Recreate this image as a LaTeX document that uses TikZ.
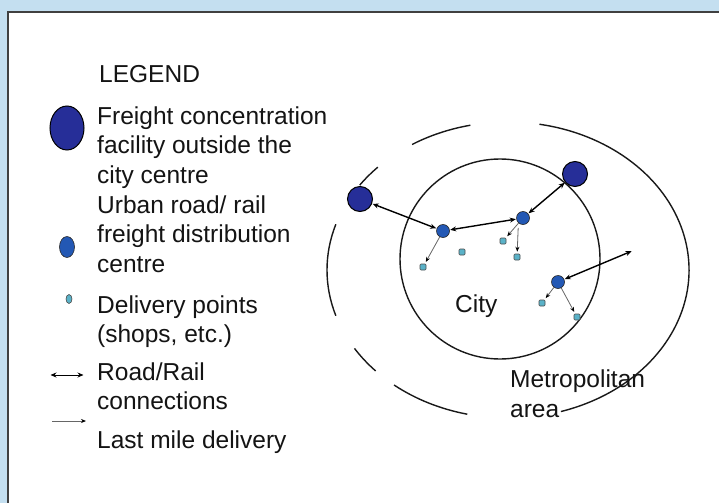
\documentclass[tikz,border=0pt]{standalone}
\usepackage{fontspec}
\setmainfont{Liberation Sans}
\usetikzlibrary{arrows.meta,shapes.geometric}

\definecolor{panelblue}{HTML}{C4DFF0}
\definecolor{hubblue}{HTML}{262E98}
\definecolor{udcblue}{HTML}{2358B4}
\definecolor{shopteal}{HTML}{5AB2C8}

\begin{document}
\begin{tikzpicture}[
  x=1pt, y=-1pt,
  font=\fontsize{24.5}{29.5}\selectfont,
  txt/.style={anchor=base west, align=left, inner sep=0pt, text=black!92},
  hub/.style={circle, draw=black, line width=1pt, fill=hubblue,
              minimum size=25pt, inner sep=0pt},
  udc/.style={circle, draw=black!85, line width=0.6pt, fill=udcblue,
              minimum size=13pt, inner sep=0pt},
  shop/.style={rectangle, rounded corners=1pt, draw=black!70, line width=0.6pt,
               fill=shopteal, minimum size=6pt, inner sep=0pt},
  link/.style={{Stealth[length=6pt,width=5pt]}-{Stealth[length=6pt,width=5pt]},
               line width=1.4pt, shorten <=0.5pt, shorten >=0.5pt},
  last/.style={-{Stealth[length=5pt,width=4pt,black]}, draw=black!60, line width=0.8pt,
               shorten >=2pt},
  ring/.style={line width=1.4pt, black!90},
]
\useasboundingbox (0,0) rectangle (719,503);

% panel
\fill[panelblue] (0,0) rectangle (719,503);
\fill[white] (8,12) rectangle (719,503);
\draw[line width=2pt, black!75] (719,12) -- (8,12) -- (8,503);

% legend (multi-line texts sit on their last baseline)
\node[txt] (legtitle) at (99,82) {LEGEND};
\node[txt] (leghub) at (97,183) {Freight concentration\\facility outside the\\city centre};
\node[txt] (legudc) at (97,272) {Urban road/ rail\\freight distribution\\centre};
\node[txt] (legshop) at (97,342.5) {Delivery points\\(shops, etc.)};
\node[txt] (leglink) at (97,409.5) {Road/Rail\\connections};
\node[txt] (leglast) at (97,448) {Last mile delivery};

\node[hub, ellipse, minimum width=34pt, minimum height=44pt] (symhub) at (67,128) {};
\node[udc, ellipse, minimum width=15pt, minimum height=21pt] (symudc) at (67,247) {};
\node[shop, ellipse, sharp corners, minimum width=6pt, minimum height=9pt] (symshop) at (69,299) {};
\coordinate (linkL) at (50,375);
\coordinate (linkR) at (84,375);
\draw[link, line width=0.9pt] (linkL) -- (linkR);
\coordinate (lastL) at (52,421);
\coordinate (lastR) at (86,421);
\draw[last, shorten >=0pt] (lastL) -- (lastR);

% city and metropolitan area
\draw[ring] (500,259) circle[radius=100];
\foreach \a/\b in {102/122, 136/145, 162/198, 212/223, 231/257, -73/80}
  \draw[ring, shift={(508,270)}] (-\a:181 and 148)
    arc[start angle=-\a, end angle=-\b, x radius=181, y radius=148];

\node[txt] (citylbl) at (455,312) {City};
\node[txt] (metrolbl) at (510,417) {Metropolitan\\area};

% facilities, centres and shops
\node[hub] (hubW) at (360,199) {};
\node[hub] (hubE) at (575,174) {};
\node[udc] (udcA) at (443,231) {};
\node[udc] (udcB) at (523,218) {};
\node[udc] (udcC) at (558,282) {};
\node[shop] (shop1) at (423,267) {};
\node[shop] (shop2) at (462,252) {};
\node[shop] (shop3) at (503,241) {};
\node[shop] (shop4) at (517,257) {};
\node[shop] (shop5) at (542,303) {};
\node[shop] (shop6) at (577,317) {};
\coordinate (farE) at (632,251);

\draw[link] (hubW) -- (udcA);
\draw[link] (udcA) -- (udcB);
\draw[link] (udcB) -- (hubE);
\draw[link] (udcC) -- (farE);

\draw[last] (udcA) -- (shop1);
\draw[last] (udcB) -- (shop3);
\draw[last] (udcB.south west) ++(0,5) -- (shop4);
\draw[last] (udcC) -- (shop5);
\draw[last] (udcC) -- (shop6);

\end{tikzpicture}
\end{document}
